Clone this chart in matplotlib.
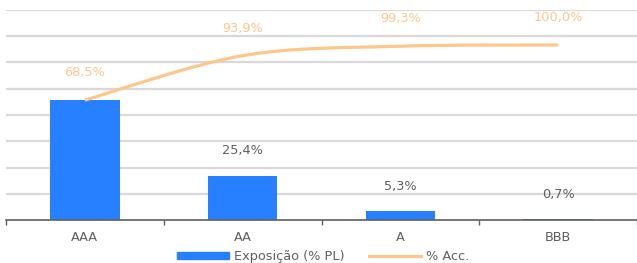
import numpy as np
import matplotlib
matplotlib.use("Agg")
import matplotlib.pyplot as plt
from matplotlib.path import Path
from matplotlib.patches import PathPatch
from matplotlib.lines import Line2D
from matplotlib.patches import Patch

# data
categories = ["AAA", "AA", "A", "BBB"]
exposure = [68.5, 25.4, 5.3, 0.7]
accumulated = [68.5, 93.9, 99.3, 100.0]
exposure_labels = ["", "25,4%", "5,3%", "0,7%"]  # first one sits under the orange label
acc_labels = ["68,5%", "93,9%", "99,3%", "100,0%"]

BAR_COLOR = "#2680FF"
LINE_COLOR = "#FFC68C"
TEXT_COLOR = "#5F5F5F"
GRID_COLOR = "#D9D9D9"

plt.rcParams["font.family"] = ["DejaVu Sans"]
FS = 9.3

fig = plt.figure(figsize=(6.37, 2.63), dpi=100)
ax = fig.add_axes([6 / 637, 43 / 263, 631 / 637, 210 / 263])

x = np.arange(len(categories))
ax.bar(x, exposure, width=0.44, color=BAR_COLOR, zorder=2)


def smooth_path(xs, ys):
    # Excel-style smoothed line: cubic bezier segments through the points
    pts = np.column_stack([xs, ys]).astype(float)
    verts = [pts[0]]
    codes = [Path.MOVETO]
    n = len(pts)
    for i in range(n - 1):
        p0 = pts[i - 1] if i > 0 else pts[i]
        p1 = pts[i]
        p2 = pts[i + 1]
        p3 = pts[i + 2] if i + 2 < n else pts[i + 1]
        c1 = p1 + (p2 - p0) / 6.0
        c2 = p2 - (p3 - p1) / 6.0
        verts += [c1, c2, p2]
        codes += [Path.CURVE4] * 3
    return Path(verts, codes)


ax.add_patch(PathPatch(smooth_path(x, accumulated), facecolor="none",
                       edgecolor=LINE_COLOR, lw=2.3, capstyle="butt", zorder=3))

for xi, v, lab in zip(x, exposure, exposure_labels):
    ax.annotate(lab, (xi, v), xytext=(0, 13), textcoords="offset points",
                ha="center", va="bottom", fontsize=FS, color=TEXT_COLOR)
for xi, v, lab in zip(x, accumulated, acc_labels):
    ax.annotate(lab, (xi, v), xytext=(0, 15), textcoords="offset points",
                ha="center", va="bottom", fontsize=FS, color=LINE_COLOR)

ax.set_xlim(-0.5, len(categories) - 0.5)
ax.set_ylim(0, 120)
ax.set_yticks(np.arange(15, 121, 15))
ax.yaxis.grid(True, color=GRID_COLOR, lw=1.6)
ax.set_axisbelow(True)
ax.tick_params(axis="y", left=False, labelleft=False)

ax.set_xticks(x)
ax.set_xticklabels(categories, fontsize=FS, color=TEXT_COLOR)
ax.set_xticks(np.arange(-0.5, len(categories)), minor=True)
ax.tick_params(axis="x", which="major", length=0, pad=8)
ax.tick_params(axis="x", which="minor", length=3.5, color=TEXT_COLOR, width=1)

for side in ["top", "right", "left"]:
    ax.spines[side].set_visible(False)
ax.spines["bottom"].set_color(TEXT_COLOR)
ax.spines["bottom"].set_linewidth(1.2)
ax.spines["bottom"].set_zorder(4)

handles = [Patch(color=BAR_COLOR, label="Exposição (% PL)"),
           Line2D([], [], color=LINE_COLOR, lw=2.3, label="% Acc.")]
fig.legend(handles=handles, loc="lower center", bbox_to_anchor=(0.507, -0.045),
           ncol=2, frameon=False, fontsize=FS, handlelength=4.0, handleheight=0.5,
           handletextpad=0.4, columnspacing=1.9, labelcolor=TEXT_COLOR)

fig.savefig("out.png", dpi=100)
